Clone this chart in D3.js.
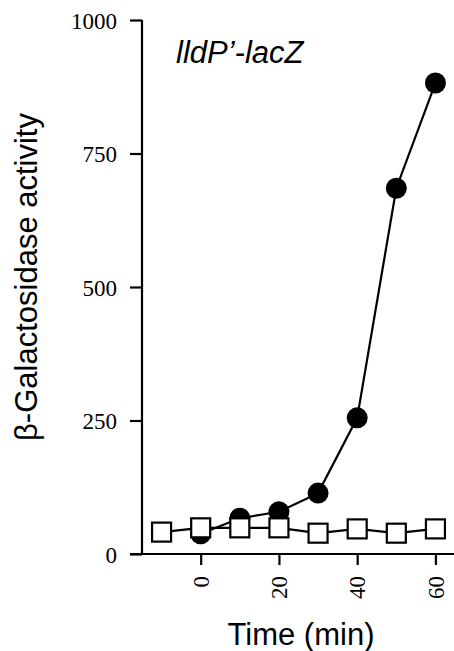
<!doctype html>
<html>
<head>
<meta charset="utf-8">
<script src="https://cdn.jsdelivr.net/npm/d3@7"></script>
<style>
  body { margin: 0; background: #fff; }
  svg text { fill: #000; }
</style>
</head>
<body>
<svg id="chart" width="454" height="651"></svg>
<script>
// values
var times = [-10, 0, 10, 20, 30, 40, 50, 60];
var induced = [null, 38, 67, 79, 114, 255, 685, 882];
var control = [41, 49, 49, 49, 39, 47, 39, 47];
var yTicks = [0, 250, 500, 750, 1000];
var xTicks = [0, 20, 40, 60];

var svg = d3.select("#chart");

var x = d3.scaleLinear().domain([-15, 65]).range([142, 455]);
var y = d3.scaleLinear().domain([0, 1000]).range([554, 20]);

var serif = "'Liberation Serif', 'Times New Roman', serif";
var sans = "'Liberation Sans', Arial, sans-serif";

// y axis
var yAxis = svg.append("g")
    .attr("transform", "translate(" + x.range()[0] + ",0)")
    .call(d3.axisLeft(y).tickValues(yTicks).tickSize(12).tickPadding(13).tickFormat(d3.format("d")));
yAxis.select(".domain").attr("d", "M0," + y(1000) + "V" + y(0)).attr("stroke-width", 2.2);
yAxis.selectAll(".tick line").attr("stroke-width", 2.2);
yAxis.selectAll(".tick text")
    .attr("dy", "0.36em")
    .style("font-family", serif)
    .style("font-size", "23px");

// x axis
var xAxis = svg.append("g")
    .attr("transform", "translate(0," + y(0) + ")")
    .call(d3.axisBottom(x).tickValues(xTicks).tickSize(11).tickFormat(d3.format("d")));
xAxis.select(".domain").attr("d", "M" + (x.range()[0] - 12) + ",0H454").attr("stroke-width", 2.2);
xAxis.selectAll(".tick line").attr("stroke-width", 2.2);
xAxis.selectAll(".tick text")
    .attr("transform", "rotate(-90)")
    .attr("x", -22).attr("y", 0).attr("dy", "0.33em")
    .attr("text-anchor", "end")
    .style("font-family", serif)
    .style("font-size", "23px");

var line = d3.line()
    .x(function (d) { return x(d[0]); })
    .y(function (d) { return y(d[1]); });

var indPts = times.map(function (t, i) { return [t, induced[i]]; }).filter(function (d) { return d[1] != null; });
var ctlPts = times.map(function (t, i) { return [t, control[i]]; });

svg.append("path").datum(indPts).attr("d", line)
    .attr("fill", "none").attr("stroke", "#000").attr("stroke-width", 2.2);
svg.selectAll(".dot").data(indPts).enter().append("circle")
    .attr("cx", function (d) { return x(d[0]); })
    .attr("cy", function (d) { return y(d[1]); })
    .attr("r", 10.5).attr("fill", "#000");

svg.append("path").datum(ctlPts).attr("d", line)
    .attr("fill", "none").attr("stroke", "#000").attr("stroke-width", 2.2);
svg.selectAll(".sq").data(ctlPts).enter().append("rect")
    .attr("x", function (d) { return x(d[0]) - 9.5; })
    .attr("y", function (d) { return y(d[1]) - 9.5; })
    .attr("width", 19).attr("height", 19)
    .attr("fill", "#fff").attr("stroke", "#000").attr("stroke-width", 2.2);

// labels
svg.append("text").text("lldP\u2019-lacZ")
    .attr("x", 176).attr("y", 63)
    .style("font-family", sans)
    .style("font-style", "italic").style("font-size", "31px");

svg.append("text").text("\u03b2-Galactosidase activity")
    .attr("transform", "translate(37,277) rotate(-90)")
    .attr("text-anchor", "middle")
    .style("font-family", sans)
    .style("font-size", "31px");

svg.append("text").text("Time (min)")
    .attr("x", 301).attr("y", 645)
    .attr("text-anchor", "middle")
    .style("font-family", sans)
    .style("font-size", "31px");
</script>
</body>
</html>
